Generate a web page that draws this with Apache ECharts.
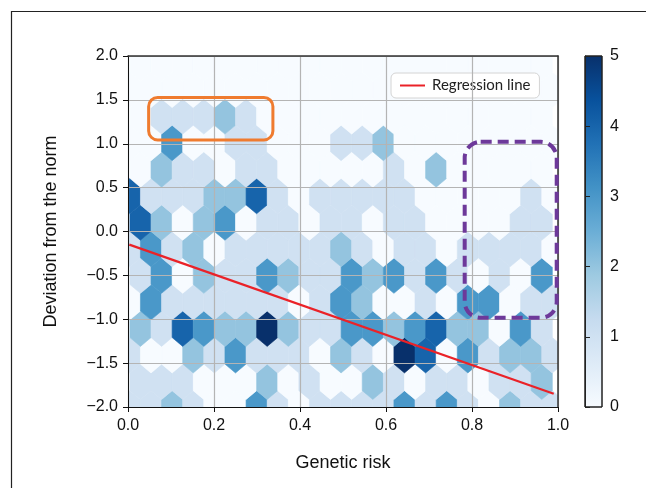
<!DOCTYPE html>
<html>
<head>
<meta charset="utf-8">
<script src="https://cdn.jsdelivr.net/npm/echarts@6/dist/echarts.min.js"></script>
<style>
  html, body { margin: 0; padding: 0; background: #fff; }
  #chart { width: 646px; height: 488px; }
</style>
</head>
<body>
<div id="chart"></div>
<script>
// hexbin lattice (data units)
const xStart = 0.0044;
const xStep = 0.04912;
const yStart = -2.015;
const yStep = 0.3024;

// counts per hex row, bottom row first; rows alternate 21 and 20 hexes
const hexRows = [
  [1,1,2,1,0,0,3,1,0,1,1,1,1,3,1,3,1,0,2,1,1],
  [1,1,1,0,0,0,2,0,1,0,0,2,1,0,1,1,0,1,1,2],
  [1,0,0,2,1,3,1,1,1,0,2,1,0,5,4,0,3,1,2,2,1],
  [2,1,4,3,2,2,5,2,1,1,3,3,2,3,4,2,2,0,3,1],
  [0,3,1,1,1,1,1,1,0,1,3,2,0,0,1,0,3,3,0,1,1],
  [1,3,0,2,1,1,3,2,1,1,3,2,3,1,3,1,0,1,0,3],
  [1,3,1,2,0,1,1,1,1,1,2,1,0,1,1,0,1,1,1,1,0],
  [4,2,0,2,3,0,1,1,0,1,1,0,1,1,0,0,0,0,1,1],
  [4,1,1,1,2,2,4,1,0,1,1,1,1,1,0,0,0,0,0,1,0],
  [0,2,1,1,0,1,1,0,0,0,0,0,1,0,2,0,0,0,0,0],
  [0,0,3,0,0,1,1,0,0,0,1,1,2,0,0,0,0,0,0,0,0],
  [0,1,1,1,2,1,0,0,0,0,0,0,0,0,0,0,0,0,0,0],
  [0,0,0,0,0,0,0,0,0,0,0,0,0,0,0,0,0,0,0,0,0],
  [0,0,0,0,0,0,0,0,0,0,0,0,0,0,0,0,0,0,0,0]
];

const regressionX = [0.003, 0.99];
const regressionY = [-0.150, -1.849];

const colorbarRange = [0, 5];

// hand drawn boxes, data corners
const orangeBox = [[0.048, 1.527], [0.337, 1.044]];
const purpleBox = [[0.783, 1.022], [0.997, -0.983]];

const blues = ['#f7fbff', '#deebf7', '#c6dbef', '#9ecae1', '#6baed6', '#4292c6', '#2171b5', '#08519c', '#08306b'];
const fontMain = 'Liberation Sans';

// build hex centres
const hexData = [];
hexRows.forEach((row, r) => {
  const y = yStart + r * yStep;
  const shift = row.length === 21 ? 0 : 0.5;
  row.forEach((c, i) => {
    hexData.push([xStart + (i + shift) * xStep, y, c]);
  });
});

function renderHex(params, api) {
  const cx = api.value(0), cy = api.value(1);
  const hw = xStep / 2, v1 = yStep / 3, v2 = yStep * 2 / 3;
  const pts = [
    [cx + hw, cy - v1], [cx + hw, cy + v1], [cx, cy + v2],
    [cx - hw, cy + v1], [cx - hw, cy - v1], [cx, cy - v2]
  ].map(p => api.coord(p));
  const color = api.visual('color');
  return {
    type: 'polygon',
    shape: { points: pts },
    style: { fill: color, stroke: color, lineWidth: 0.6 }
  };
}

function renderColorbar(params, api) {
  const p0 = api.coord([0, api.value(0)]);
  const p1 = api.coord([1, api.value(1)]);
  const stops = blues.map((c, i) => ({ offset: i / (blues.length - 1), color: c }));
  return {
    type: 'rect',
    shape: { x: p0[0], y: p1[1], width: p1[0] - p0[0], height: p0[1] - p1[1] },
    style: {
      fill: new echarts.graphic.LinearGradient(0, 1, 0, 0, stops),
      stroke: '#222', lineWidth: 1
    }
  };
}

const fmtY = v => (v < 0 ? '\u2212' : '') + Math.abs(v).toFixed(1);

const chart = echarts.init(document.getElementById('chart'));
const option = {
  animation: false,
  textStyle: { fontFamily: fontMain },
  grid: [
    { left: 128, top: 56, width: 430, height: 351 },
    { left: 585, top: 56, width: 17, height: 351 }
  ],
  visualMap: {
    show: false, type: 'continuous', min: 0, max: 5,
    dimension: 2, seriesIndex: 0,
    inRange: { color: blues }
  },
  legend: {
    data: [{ name: 'Regression line', icon: 'rect' }],
    left: 391, top: 73,
    itemWidth: 25, itemHeight: 2, itemGap: 8,
    backgroundColor: '#fff', borderColor: '#d4d4d4', borderWidth: 1, borderRadius: 5,
    padding: [5, 9, 5, 9],
    textStyle: { fontSize: 15, fontFamily: 'Lato', color: '#222', padding: [0, 0, 0, 2] }
  },
  xAxis: [
    {
      gridIndex: 0, type: 'value', min: 0, max: 1, interval: 0.2, z: 5,
      axisLine: { onZero: false, lineStyle: { color: '#111', width: 1 } },
      axisTick: { length: 5, lineStyle: { color: '#111' } },
      axisLabel: { formatter: v => v.toFixed(1), fontSize: 16, color: '#111', margin: 11 },
      splitLine: { show: true, lineStyle: { color: '#b4b4b4', width: 1.2 } },
      name: 'Genetic risk', nameLocation: 'middle', nameGap: 47,
      nameTextStyle: { fontSize: 18, color: '#111' }
    },
    {
      gridIndex: 0, type: 'value', min: 0, max: 1, position: 'top', z: 5,
      axisLine: { onZero: false, lineStyle: { color: '#333', width: 1.5 } },
      axisTick: { show: false }, axisLabel: { show: false }, splitLine: { show: false }
    },
    { gridIndex: 1, type: 'value', min: 0, max: 1, show: false }
  ],
  yAxis: [
    {
      gridIndex: 0, type: 'value', min: -2, max: 2, interval: 0.5, z: 5,
      axisLine: { onZero: false, lineStyle: { color: '#111', width: 1 } },
      axisTick: { length: 5, lineStyle: { color: '#111' } },
      axisLabel: { formatter: fmtY, fontSize: 16, color: '#111', margin: 10 },
      splitLine: { show: true, lineStyle: { color: '#b4b4b4', width: 1.2 } },
      name: 'Deviation from the norm', nameLocation: 'middle', nameGap: 68,
      nameTextStyle: { fontSize: 18, color: '#111' }
    },
    {
      gridIndex: 0, type: 'value', min: -2, max: 2, position: 'right', z: 5,
      axisLine: { onZero: false, lineStyle: { color: '#333', width: 1.5 } },
      axisTick: { show: false }, axisLabel: { show: false }, splitLine: { show: false }
    },
    {
      gridIndex: 1, type: 'value', min: 0, max: 5, interval: 1, position: 'right', z: 5,
      axisLine: { show: true, lineStyle: { color: '#222' } },
      axisTick: { show: true, length: 5, lineStyle: { color: '#222' } },
      axisLabel: { fontSize: 16, color: '#111', margin: 8 },
      splitLine: { show: false }
    }
  ],
  series: [
    {
      type: 'custom', xAxisIndex: 0, yAxisIndex: 0, clip: true, z: 2,
      renderItem: renderHex,
      encode: { x: 0, y: 1 },
      data: hexData
    },
    {
      name: 'Regression line', type: 'line', xAxisIndex: 0, yAxisIndex: 0, z: 10,
      symbol: 'none', clip: true,
      lineStyle: { color: '#ea2228', width: 2.2 },
      itemStyle: { color: '#ea2228' },
      data: regressionX.map((x, i) => [x, regressionY[i]])
    },
    {
      type: 'custom', xAxisIndex: 2, yAxisIndex: 2, z: 2,
      renderItem: renderColorbar,
      data: [colorbarRange]
    }
  ]
};
chart.setOption(option);

// annotations and figure frame
function boxGraphic(box, color, width, dash, radius) {
  const a = chart.convertToPixel({ gridIndex: 0 }, box[0]);
  const b = chart.convertToPixel({ gridIndex: 0 }, box[1]);
  return {
    type: 'rect', z: 100,
    shape: {
      x: Math.min(a[0], b[0]), y: Math.min(a[1], b[1]),
      width: Math.abs(b[0] - a[0]), height: Math.abs(b[1] - a[1]), r: radius
    },
    style: { fill: null, stroke: color, lineWidth: width, lineDash: dash }
  };
}

chart.setOption({
  graphic: [
    boxGraphic(orangeBox, '#ef7b2f', 3, null, 9),
    boxGraphic(purpleBox, '#6d399a', 4, [11, 6], 16),
    {
      type: 'polyline', z: 100,
      shape: { points: [[11.5, 488], [11.5, 11.5], [646, 11.5]] },
      style: { fill: null, stroke: '#222', lineWidth: 1.2 }
    }
  ]
});
</script>
</body>
</html>
